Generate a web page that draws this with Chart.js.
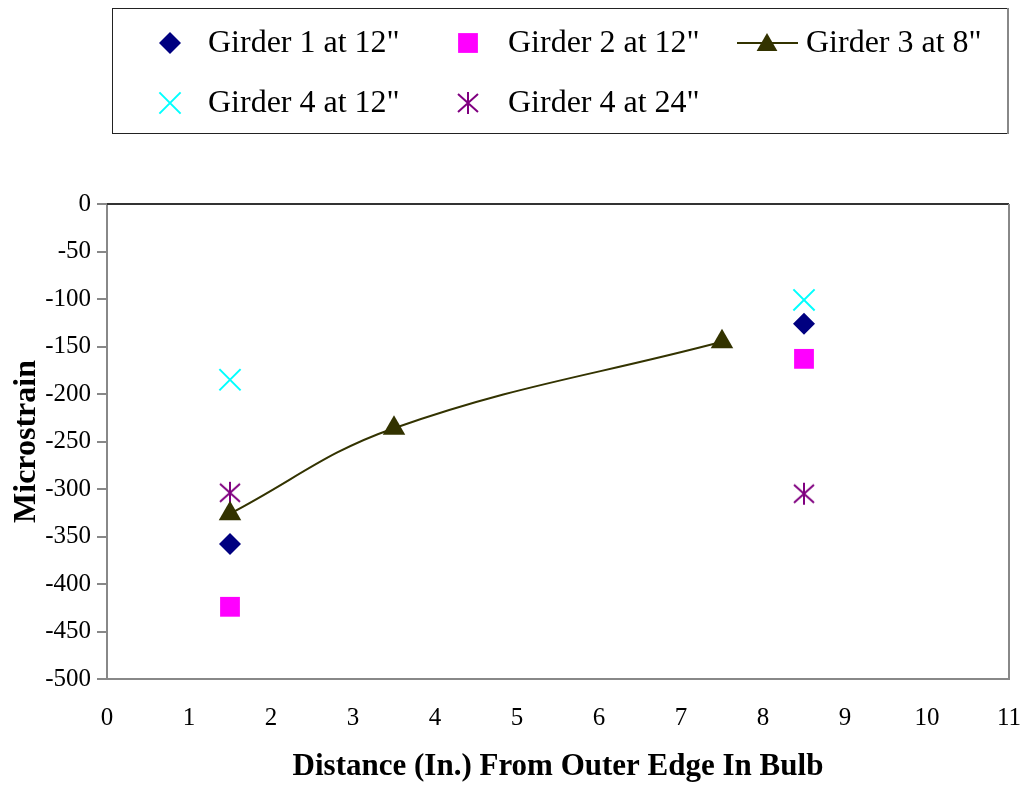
<!DOCTYPE html>
<html lang="en">
<head>
    <meta charset="UTF-8">
    <title>Microstrain vs Distance From Outer Edge In Bulb</title>
    <script src="https://cdn.jsdelivr.net/npm/chart.js"></script>
    <style>
        body {
            margin: 0;
            background-color: #ffffff;
        }
        .chart-container {
            position: relative;
            width: 1026px;
            height: 787px;
        }
    </style>
</head>
<body>
    <div class="chart-container">
        <canvas id="strainChart"></canvas>
    </div>

    <script>
        // values
        const seriesNames = ['Girder 1 at 12"', 'Girder 2 at 12"', 'Girder 3 at 8"', 'Girder 4 at 12"', 'Girder 4 at 24"'];
        const outerX = [1.5, 8.5];
        const girder1 = [-358, -126];
        const girder2 = [-424, -163];
        const girder3X = [1.5, 3.5, 7.5];
        const girder3 = [-326, -236, -145];
        const girder4at12 = [-185, -101];
        const girder4at24 = [-304, -305];
        const xTicks = [0, 1, 2, 3, 4, 5, 6, 7, 8, 9, 10, 11];
        const yTicks = [0, -50, -100, -150, -200, -250, -300, -350, -400, -450, -500];

        const toPoints = (xs, ys) => xs.map((x, i) => ({ x, y: ys[i] }));

        // asterisk marker (vertical stroke + X), like the Excel star marker
        const makeAsterisk = (color) => {
            const c = document.createElement('canvas');
            c.width = 24;
            c.height = 24;
            const g = c.getContext('2d');
            g.strokeStyle = color;
            g.lineWidth = 2;
            g.beginPath();
            g.moveTo(12, 1); g.lineTo(12, 23);
            g.moveTo(2, 3); g.lineTo(22, 21);
            g.moveTo(22, 3); g.lineTo(2, 21);
            g.stroke();
            return c;
        };
        const asterisk = makeAsterisk('#800080');

        const serif = '"Liberation Serif", "Times New Roman", serif';

        const styles = [
            { color: '#000080', pointStyle: 'rectRot', radius: 11, borderWidth: 0 },
            { color: '#ff00ff', pointStyle: 'rect', radius: 14, borderWidth: 0 },
            { color: '#333300', pointStyle: 'triangle', radius: 13, borderWidth: 0, line: true },
            { color: '#00ffff', pointStyle: 'crossRot', radius: 15, borderWidth: 2 },
            { color: '#800080', pointStyle: asterisk, radius: 12, borderWidth: 0 }
        ];

        const dataSets = [
            toPoints(outerX, girder1),
            toPoints(outerX, girder2),
            toPoints(girder3X, girder3),
            toPoints(outerX, girder4at12),
            toPoints(outerX, girder4at24)
        ];

        // legend box above the plot, drawn on the canvas
        const boxLegend = {
            id: 'boxLegend',
            afterDraw(chart) {
                const ctx = chart.ctx;
                ctx.save();
                ctx.lineWidth = 1;
                ctx.strokeStyle = '#222222';
                ctx.strokeRect(112.5, 8.5, 895, 125);
                ctx.strokeStyle = '#888888';
                ctx.lineWidth = 2;
                ctx.beginPath();
                ctx.moveTo(1008, 8); ctx.lineTo(1008, 134);
                ctx.stroke();

                const slots = [
                    { mx: 170, tx: 208, y: 43 },
                    { mx: 468, tx: 508, y: 43 },
                    { mx: 767, tx: 806, y: 43 },
                    { mx: 170, tx: 208, y: 103 },
                    { mx: 468, tx: 508, y: 103 }
                ];
                slots.forEach((s, i) => {
                    const st = styles[i];
                    if (st.line) {
                        ctx.strokeStyle = st.color;
                        ctx.lineWidth = 2;
                        ctx.beginPath();
                        ctx.moveTo(737, s.y);
                        ctx.lineTo(798, s.y);
                        ctx.stroke();
                    }
                    ctx.fillStyle = st.color;
                    ctx.strokeStyle = st.color;
                    ctx.lineWidth = st.borderWidth || 1;
                    Chart.helpers.drawPoint(ctx, {
                        pointStyle: st.pointStyle,
                        radius: st.line ? 12 : st.radius,
                        borderWidth: st.borderWidth,
                        rotation: 0
                    }, s.mx, st.line ? s.y + 2 : s.y);
                    ctx.fillStyle = '#000000';
                    ctx.font = '32px ' + serif;
                    ctx.textBaseline = 'middle';
                    ctx.textAlign = 'left';
                    ctx.fillText(seriesNames[i], s.tx, s.y + 1);
                });

                // top and right edges of the plot frame
                const a = chart.chartArea;
                ctx.strokeStyle = '#333333';
                ctx.lineWidth = 2;
                ctx.beginPath();
                ctx.moveTo(a.left, a.top);
                ctx.lineTo(a.right, a.top);
                ctx.stroke();
                ctx.strokeStyle = '#888888';
                ctx.beginPath();
                ctx.moveTo(a.right, a.top);
                ctx.lineTo(a.right, a.bottom);
                ctx.stroke();
                ctx.restore();
            }
        };

        new Chart(document.getElementById('strainChart').getContext('2d'), {
            type: 'scatter',
            data: {
                datasets: dataSets.map((pts, i) => ({
                    label: seriesNames[i],
                    data: pts,
                    showLine: !!styles[i].line,
                    tension: 0.4,
                    borderColor: styles[i].color,
                    backgroundColor: styles[i].color,
                    borderWidth: 2,
                    pointStyle: styles[i].pointStyle,
                    pointRadius: styles[i].radius,
                    pointHoverRadius: styles[i].radius,
                    pointBorderWidth: styles[i].borderWidth,
                    pointBackgroundColor: styles[i].color,
                    pointBorderColor: styles[i].color
                }))
            },
            options: {
                responsive: true,
                maintainAspectRatio: false,
                animation: false,
                layout: { padding: { top: 204, right: 12, left: 0, bottom: 0 } },
                plugins: {
                    legend: { display: false },
                    tooltip: { enabled: false }
                },
                scales: {
                    x: {
                        type: 'linear',
                        min: 0,
                        max: 11,
                        afterBuildTicks: (scale) => { scale.ticks = xTicks.map(v => ({ value: v })); },
                        afterFit: (scale) => {
                            scale.height = 108;
                            scale.paddingLeft = 0;
                            scale.paddingRight = 0;
                        },
                        grid: { drawOnChartArea: false, drawTicks: false },
                        border: { display: true, color: '#888888', width: 2 },
                        ticks: {
                            padding: 24,
                            color: '#000000',
                            font: { family: serif, size: 25 }
                        },
                        title: {
                            display: true,
                            text: 'Distance (In.) From Outer Edge In Bulb',
                            color: '#000000',
                            font: { family: serif, size: 31, weight: 'bold' },
                            padding: { top: 0, bottom: 1 }
                        }
                    },
                    y: {
                        type: 'linear',
                        min: -500,
                        max: 0,
                        afterBuildTicks: (scale) => { scale.ticks = yTicks.map(v => ({ value: v })); },
                        afterFit: (scale) => { scale.width = 107; },
                        grid: { drawOnChartArea: false, drawTicks: true, tickLength: 10, color: '#888888', lineWidth: 2 },
                        border: { display: true, color: '#888888', width: 2 },
                        ticks: {
                            padding: 6,
                            color: '#000000',
                            font: { family: serif, size: 25 }
                        },
                        title: {
                            display: true,
                            text: 'Microstrain',
                            color: '#000000',
                            font: { family: serif, size: 32, weight: 'bold' },
                            padding: { top: 8, bottom: 0 }
                        }
                    }
                }
            },
            plugins: [boxLegend]
        });
    </script>
</body>
</html>
